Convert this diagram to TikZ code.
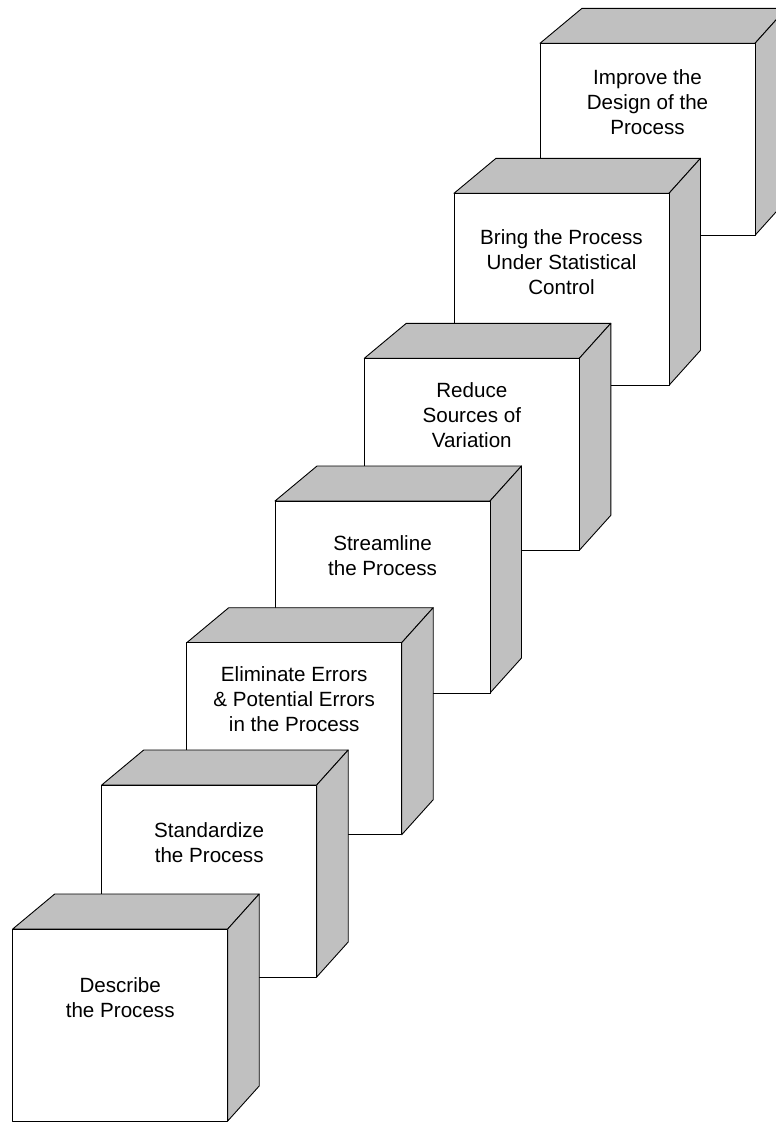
\documentclass[tikz,border=0pt]{standalone}
\usepackage{fontspec}
\setmainfont{Liberation Sans}
\definecolor{sidegray}{RGB}{192,192,192}
\tikzset{
  edge/.style={draw=black, line width=0.9pt, line join=round},
  lbl/.style={align=center, inner sep=0pt, anchor=base, font=\fontsize{20.6}{25}\selectfont},
  cube/.pic={
    \path[edge, fill=sidegray] (0,0) -- (42,-35) -- (246.5,-35) -- (215,0) -- cycle;
    \path[edge, fill=sidegray] (215,0) -- (246.5,-35) -- (246.5,157) -- (215,192) -- cycle;
    \path[edge, fill=white] (0,0) rectangle (215,192);
  }
}
\begin{document}
\begin{tikzpicture}[x=1pt,y=-1pt]
\clip (0,0) rectangle (776,1122);
\fill[white] (0,0) rectangle (776,1122);
\pic at (540,43.3) {cube};
\pic at (454,193.3) {cube};
\pic at (364.3,358.3) {cube};
\pic at (275,501) {cube};
\pic at (186.7,642.7) {cube};
\pic at (101.7,785) {cube};
\pic at (12.7,929) {cube};
\node[lbl] (t7) at (647.5,134.5) {Improve the\\Design of the\\Process};
\node[lbl] (t6) at (561.5,294.5) {Bring the Process\\Under Statistical\\Control};
\node[lbl] (t5) at (471.8,447.5) {Reduce\\Sources of\\Variation};
\node[lbl] (t4) at (382.5,575) {Streamline\\the Process};
\node[lbl] (t3) at (294.2,731) {Eliminate Errors\\\& Potential Errors\\in the Process};
\node[lbl] (t2) at (209.2,862.2) {Standardize\\the Process};
\node[lbl] (t1) at (120.2,1017.5) {Describe\\the Process};
\end{tikzpicture}
\end{document}
